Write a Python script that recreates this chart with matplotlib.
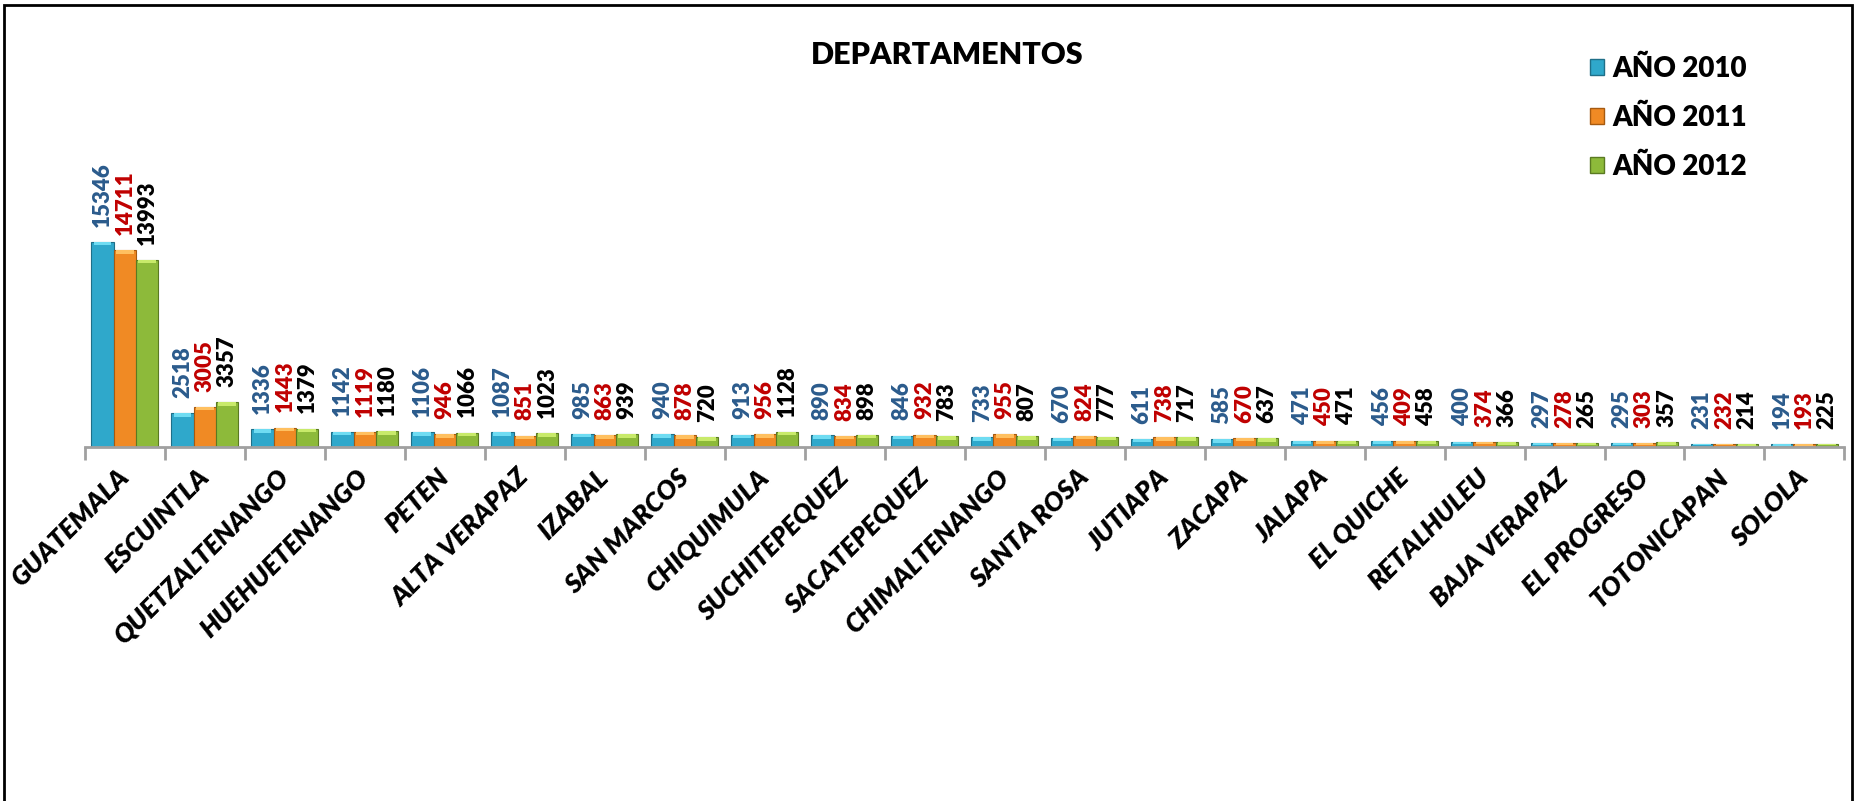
import matplotlib.pyplot as plt
import matplotlib.patches as mpatches
import numpy as np

departamentos = ['GUATEMALA', 'ESCUINTLA', 'QUETZALTENANGO', 'HUEHUETENANGO', 'PETEN',
                 'ALTA VERAPAZ', 'IZABAL', 'SAN MARCOS', 'CHIQUIMULA', 'SUCHITEPEQUEZ',
                 'SACATEPEQUEZ', 'CHIMALTENANGO', 'SANTA ROSA', 'JUTIAPA', 'ZACAPA', 'JALAPA',
                 'EL QUICHE', 'RETALHULEU', 'BAJA VERAPAZ', 'EL PROGRESO', 'TOTONICAPAN', 'SOLOLA']
anio_2010 = [15346, 2518, 1336, 1142, 1106, 1087, 985, 940, 913, 890, 846, 733, 670, 611,
             585, 471, 456, 400, 297, 295, 231, 194]
anio_2011 = [14711, 3005, 1443, 1119, 946, 851, 863, 878, 956, 834, 932, 955, 824, 738,
             670, 450, 409, 374, 278, 303, 232, 193]
anio_2012 = [13993, 3357, 1379, 1180, 1066, 1023, 939, 720, 1128, 898, 783, 807, 777, 717,
             637, 471, 458, 366, 265, 357, 214, 225]
series_labels = ['AÑO 2010', 'AÑO 2011', 'AÑO 2012']

FONT = ['Lato', 'DejaVu Sans']
plt.rcParams['font.family'] = FONT

bar_colors = ['#2FA8CB', '#F08A24', '#8DBA3A']
top_colors = ['#6FDCF2', '#FFC060', '#C8EA6A']
edge_colors = ['#1F6F88', '#A65A10', '#5A7A22']
label_colors = ['#2B5B8C', '#C00000', '#000000']

fig = plt.figure(figsize=(18.58, 8.01), dpi=100)
ax = fig.add_axes([0.0457, 0.442, 0.947, 0.5006])

x = np.arange(len(departamentos))
w = 0.28
for i, vals in enumerate([anio_2010, anio_2011, anio_2012]):
    pos = x + (i - 1) * w
    ax.bar(pos, vals, width=w, color=bar_colors[i], edgecolor=edge_colors[i],
           linewidth=0.8, zorder=2)
    # light bevel strip on top of each bar
    cap = np.minimum(np.array(vals) * 0.5, 260)
    ax.bar(pos, cap, width=w * 0.8, bottom=np.array(vals) - cap,
           color=top_colors[i], linewidth=0, zorder=3)
    for p, v in zip(pos, vals):
        ax.annotate(str(v), (p, v), xytext=(0, 11), textcoords='offset points',
                    rotation=90, ha='center', va='bottom', fontsize=16,
                    fontweight='heavy', color=label_colors[i])

ax.set_xlim(-0.5, len(departamentos) - 0.5)
ax.set_ylim(0, 30000)
for s in ['top', 'right', 'left']:
    ax.spines[s].set_visible(False)
ax.spines['bottom'].set_color('#A0A0A0')
ax.spines['bottom'].set_linewidth(2)
ax.set_yticks([])

ax.set_xticks(x)
ax.set_xticklabels(departamentos, rotation=45, ha='right', va='center',
                   rotation_mode='anchor', fontsize=19, fontweight='heavy',
                   fontstyle='italic')
ax.tick_params(axis='x', which='major', length=0, pad=19)
ax.set_xticks(np.arange(len(departamentos) + 1) - 0.5, minor=True)
ax.tick_params(axis='x', which='minor', length=9, width=2, color='#A0A0A0')

fig.text(0.51, 0.931, 'DEPARTAMENTOS', ha='center', va='center', fontsize=22,
         fontweight='heavy')

handles = [mpatches.Patch(facecolor=bar_colors[i], edgecolor=edge_colors[i],
                          label=series_labels[i]) for i in range(3)]
leg = fig.legend(handles=handles, loc='upper left', bbox_to_anchor=(0.8425, 0.962),
                 frameon=False, handlelength=0.5, handleheight=0.5, handletextpad=0.3,
                 labelspacing=0.82, prop={'family': FONT, 'weight': 'heavy', 'size': 20})

# outer chart border
fig.patches.append(mpatches.Rectangle((0.002, -0.05), 0.995, 1.044, transform=fig.transFigure,
                                      fill=False, edgecolor='black', linewidth=2))

fig.savefig('out.png', dpi=100)
